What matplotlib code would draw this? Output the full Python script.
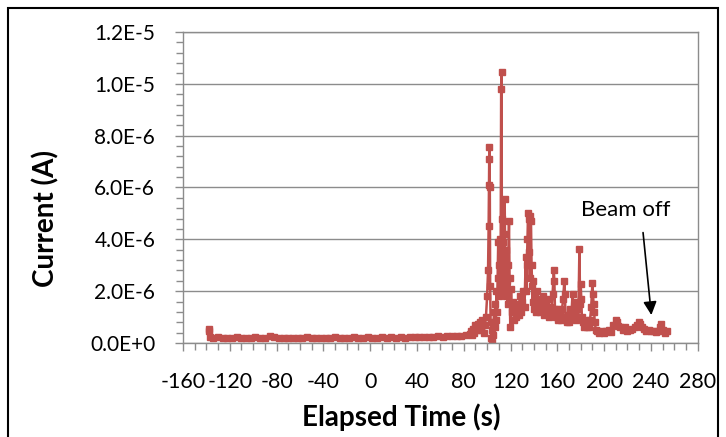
import matplotlib
matplotlib.use('Agg')
import matplotlib.pyplot as plt
from matplotlib.ticker import MultipleLocator, FuncFormatter
from matplotlib.patches import Rectangle

plt.rcParams['font.family'] = ['Lato', 'DejaVu Sans']
plt.rcParams['axes.unicode_minus'] = False

# baseline before the beam event (time s, current in 1e-6 A)
base_t = [-138, -137.6, -137, -134, -130, -126, -122, -118, -114, -110, -106, -102,
          -98, -94, -90, -86, -82, -78, -74, -70, -66, -62, -58, -54, -50, -46, -42,
          -38, -34, -30, -26, -22, -18, -14, -10, -6, -2, 2, 6, 10, 14, 18, 22, 26,
          30, 34, 38, 42, 46, 50, 54, 58, 62, 66, 70, 74, 78, 82, 85]
base_i = [0.55, 0.45, 0.25, 0.2, 0.22, 0.2, 0.21, 0.2, 0.22, 0.2, 0.21, 0.2,
          0.22, 0.2, 0.21, 0.26, 0.22, 0.2, 0.21, 0.2, 0.2, 0.21, 0.2, 0.22, 0.2, 0.21, 0.2,
          0.21, 0.2, 0.22, 0.2, 0.21, 0.2, 0.22, 0.21, 0.2, 0.22, 0.21, 0.2, 0.22, 0.21, 0.22, 0.2, 0.23,
          0.21, 0.24, 0.22, 0.24, 0.23, 0.25, 0.24, 0.26, 0.25, 0.27, 0.26, 0.28, 0.27, 0.3, 0.35]

# main event
peak_t = [86, 87, 88, 89, 90, 91, 92, 93, 94, 95, 96, 97, 98, 99, 100, 100.8, 101.3,
          101.6, 101.8, 102, 102.3, 102.6, 103, 103.5, 104, 104.5, 105, 106, 106.5, 107,
          107.5, 108, 108.5, 109, 109.5, 110, 110.5, 111, 111.5, 112, 112.3, 112.6, 113,
          113.5, 114, 114.5, 115, 115.5, 116, 116.5, 117, 117.5, 118, 118.7, 119.2, 119.8,
          120.5, 121, 122, 123, 124, 125, 126, 127, 128, 129, 130, 131, 132, 133, 133.5,
          134, 134.5, 135, 135.5, 136, 136.5, 137, 137.5, 138, 138.5, 139, 139.5, 140, 141,
          142, 142.5, 143, 144, 145, 146, 147, 148, 149, 150, 151, 152, 153, 154, 155, 156,
          157, 157.5, 158, 159, 160, 161, 162, 163, 164, 165, 166, 166.5, 167, 168, 169,
          170, 171, 172, 173, 174, 175, 176, 177, 178, 178.9, 179.5, 180, 180.5, 181, 182,
          183, 184, 185, 186, 187, 188, 189, 190, 190.5, 191, 191.5, 192, 193]
peak_i = [0.45, 0.3, 0.55, 0.4, 0.7, 0.5, 0.75, 0.6, 0.8, 0.5, 0.9, 0.4, 0.7, 1.0, 1.8, 2.8, 4.5,
          6.1, 7.1, 7.55, 6.0, 2.2, 0.8, 0.2, 0.05, 0.5, 0.3, 1.2, 0.6, 1.5,
          0.9, 2.0, 1.2, 2.5, 3.9, 1.8, 3.0, 4.0, 2.2, 9.8, 10.45, 4.8, 2.5,
          3.9, 2.0, 4.2, 5.55, 3.0, 1.8, 3.6, 2.4, 1.5, 3.0, 4.7, 2.5, 0.6,
          2.1, 1.2, 1.6, 0.9, 1.3, 1.0, 1.5, 1.1, 1.8, 1.2, 1.6, 2.0, 1.4, 3.3, 2.0,
          3.0, 4.0, 5.0, 3.5, 4.8, 2.5, 4.9, 4.7, 3.0, 2.2, 1.6, 2.4, 1.3, 1.8,
          1.2, 2.0, 1.4, 1.7, 1.2, 1.6, 1.3, 1.8, 1.1, 1.5, 1.3, 1.7, 1.0, 1.4, 1.2, 1.9,
          2.8, 2.4, 1.3, 1.0, 1.3, 0.9, 1.2, 0.9, 1.3, 1.7, 2.4, 1.9, 1.0, 0.8, 1.1,
          0.8, 1.3, 1.0, 1.9, 1.2, 1.6, 0.9, 1.3, 1.0, 3.64, 1.5, 2.28, 1.7, 1.0, 0.8,
          0.6, 0.9, 0.6, 0.8, 0.6, 0.9, 1.4, 2.3, 1.9, 1.5, 1.2, 0.8, 0.5]

# after the event, beam switched off
tail_t = [194, 196, 198, 200, 202, 204, 206, 208, 210, 211, 212, 214, 216, 218, 220,
          222, 224, 226, 228, 230, 231, 232, 234, 236, 238, 240, 242, 244, 246, 248,
          249, 250, 252, 254]
tail_i = [0.45, 0.38, 0.48, 0.4, 0.45, 0.5, 0.42, 0.7, 0.9, 0.8, 0.65, 0.6, 0.5, 0.6, 0.45,
          0.5, 0.55, 0.6, 0.7, 0.82, 0.72, 0.6, 0.55, 0.48, 0.52, 0.45, 0.48, 0.42, 0.45, 0.6,
          0.75, 0.5, 0.4, 0.45]

t = base_t + peak_t + tail_t
cur = [v * 1e-6 for v in base_i + peak_i + tail_i]

fig = plt.figure(figsize=(7.26, 4.37), dpi=100)
ax = fig.add_axes([0.252, 0.215, 0.709, 0.712])

ax.plot(t, cur, color='#C0504D', lw=1.8, marker='s', ms=4, mec='#C0504D', mfc='#C0504D')

ax.set_xlim(-160, 280)
ax.set_ylim(0, 1.2e-5)
ax.xaxis.set_major_locator(MultipleLocator(40))
ax.xaxis.set_minor_locator(MultipleLocator(10))
ax.yaxis.set_major_locator(MultipleLocator(2e-6))
ax.yaxis.set_minor_locator(MultipleLocator(4e-7))


def sci(v, pos):
    if abs(v) < 1e-12:
        return '0.0E+0'
    m, e = f'{v:.1E}'.split('E')
    return f'{m}E{int(e)}'


ax.yaxis.set_major_formatter(FuncFormatter(sci))
ax.grid(axis='y', color='#8c8c8c', lw=1)
ax.set_axisbelow(True)
for s in ax.spines.values():
    s.set_color('#8c8c8c')
    s.set_linewidth(1)
ax.tick_params(which='both', direction='out', color='#8c8c8c', width=1)
ax.tick_params(which='major', length=6)
ax.tick_params(which='minor', length=5)
ax.tick_params(axis='x', pad=15, labelsize=15.5)
ax.tick_params(axis='y', pad=14, labelsize=15)

ax.set_xlabel('Elapsed Time (s)', fontsize=20, fontweight='bold')
ax.set_ylabel('Current (A)', fontsize=20, fontweight='bold')
ax.xaxis.set_label_coords(0.425, -0.195)
ax.yaxis.set_label_coords(-0.239, 0.40)

ax.text(218.5, 5.13e-6, 'Beam off', fontsize=16, ha='center', va='center')
ax.annotate('', xy=(240.4, 1.08e-6), xytext=(233.3, 4.26e-6),
            arrowprops=dict(arrowstyle='-|>', color='black', lw=1.2, mutation_scale=20,
                            shrinkA=0, shrinkB=0))

fig.patches.append(Rectangle((8 / 726, -0.1), 710 / 726, 1.1 - 8 / 437,
                             transform=fig.transFigure, fill=False, ec='black', lw=1.5))

plt.savefig('out.png', dpi=100)
